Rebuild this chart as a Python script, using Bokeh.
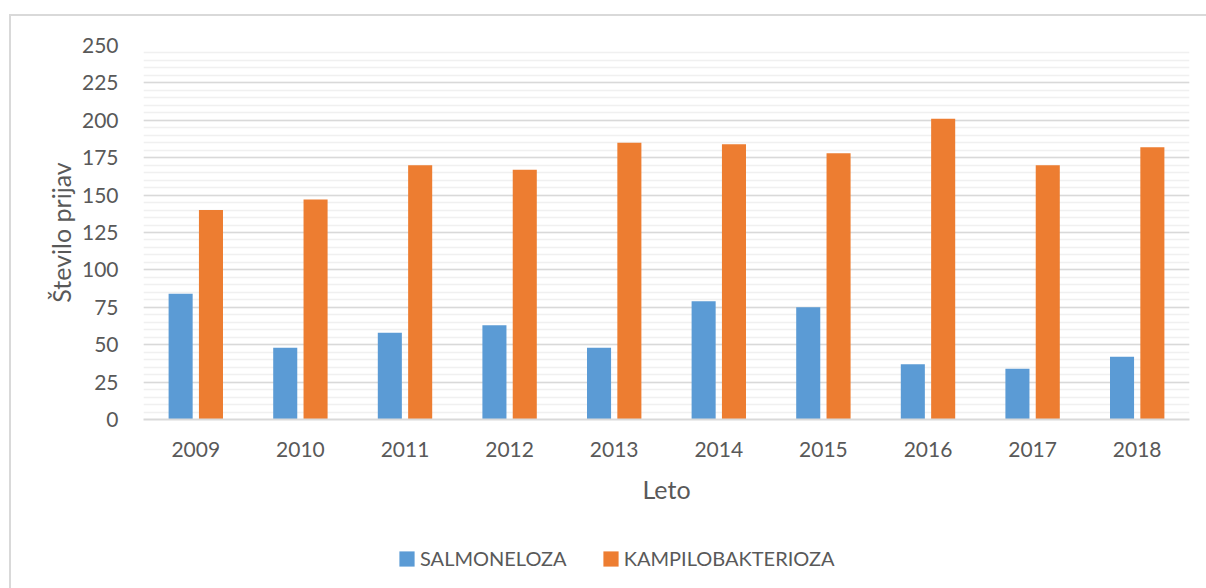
from bokeh.plotting import figure
from bokeh.layouts import column
from bokeh.models import (FactorRange, Range1d, SingleIntervalTicker, ColumnDataSource,
                          Legend, LegendItem)
from bokeh.transform import dodge
from bokeh.embed import file_html
from bokeh.resources import INLINE

years = ["2009", "2010", "2011", "2012", "2013", "2014", "2015", "2016", "2017", "2018"]
salmoneloza = [84, 48, 58, 63, 48, 79, 75, 37, 34, 42]
kampilobakterioza = [140, 147, 170, 167, 185, 184, 178, 201, 170, 182]
series_names = ["SALMONELOZA", "KAMPILOBAKTERIOZA"]
series_colors = ["#5b9bd5", "#ed7d31"]

FONT = "Lato"
TXT = "#595959"

src = ColumnDataSource(dict(year=years, sal=salmoneloza, kam=kampilobakterioza))

OX, OY = 11, 16          # figure origin on page
W = 1206 - OX
H1 = 514 - OY            # main figure height
H2 = 588 - 514           # legend strip height

p = figure(width=W, height=H1, output_backend="svg", toolbar_location=None,
           x_range=FactorRange(factors=years, range_padding=0),
           y_range=Range1d(0, 250),
           min_border_left=143 - OX, min_border_right=W - (1189 - OX),
           min_border_top=45 - OY, min_border_bottom=H1 - (419 - OY))
p.outline_line_color = None
p.background_fill_color = "white"
p.border_fill_color = "white"

p.vbar(x=dodge("year", -0.145, range=p.x_range), top="sal", width=0.23, source=src,
       fill_color=series_colors[0], line_color=None)
p.vbar(x=dodge("year", 0.145, range=p.x_range), top="kam", width=0.23, source=src,
       fill_color=series_colors[1], line_color=None)

# y axis
p.yaxis.ticker = SingleIntervalTicker(interval=25, num_minor_ticks=5)
p.yaxis.axis_line_color = None
p.yaxis.major_tick_line_color = None
p.yaxis.minor_tick_line_color = None
p.yaxis.major_label_text_font = FONT
p.yaxis.major_label_text_font_size = "21px"
p.yaxis.major_label_text_color = TXT
p.yaxis.major_label_standoff = 19
p.yaxis.axis_label = "Število prijav"
p.yaxis.axis_label_text_font = FONT
p.yaxis.axis_label_text_font_size = "25px"
p.yaxis.axis_label_text_font_style = "normal"
p.yaxis.axis_label_text_color = TXT
p.yaxis.axis_label_standoff = 3

# x axis
p.xaxis.axis_line_color = "#d9d9d9"
p.xaxis.axis_line_width = 2
p.xaxis.major_tick_line_color = None
p.xaxis.minor_tick_line_color = None
p.xaxis.major_label_text_font = FONT
p.xaxis.major_label_text_font_size = "21px"
p.xaxis.major_label_text_color = TXT
p.xaxis.major_label_standoff = 16
p.xaxis.axis_label = "Leto"
p.xaxis.axis_label_text_font = FONT
p.xaxis.axis_label_text_font_size = "25px"
p.xaxis.axis_label_text_font_style = "normal"
p.xaxis.axis_label_text_color = TXT
p.xaxis.axis_label_standoff = 14

# grids
p.xgrid.grid_line_color = None
p.ygrid.grid_line_color = "#d9d9d9"
p.ygrid.grid_line_width = 1.3
p.ygrid.minor_grid_line_color = "#f0f0f0"
p.ygrid.minor_grid_line_width = 1.5

# legend strip (separate figure so the legend is not clipped)
pl = figure(width=W, height=H2, output_backend="svg", toolbar_location=None,
            x_range=Range1d(0, 1), y_range=Range1d(0, 1),
            x_axis_location=None, y_axis_location=None,
            min_border=0, min_border_left=0, min_border_right=0,
            min_border_top=0, min_border_bottom=0)
pl.outline_line_color = None
pl.xgrid.grid_line_color = None
pl.ygrid.grid_line_color = None
pl.background_fill_color = "white"
pl.border_fill_color = "white"
items = []
for name, col in zip(series_names, series_colors):
    r = pl.vbar(x=[-5], top=[-5], width=0.1, fill_color=col, line_color=None)
    items.append(LegendItem(label=name, renderers=[r]))
legend = Legend(items=items, orientation="horizontal", location=(254, 18),
                label_text_font=FONT, label_text_font_size="20px", label_text_color=TXT,
                glyph_width=19, glyph_height=19, label_standoff=4, spacing=34,
                margin=0, padding=5,
                border_line_color=None, background_fill_alpha=0)
pl.add_layout(legend, "center")

layout = column(p, pl, spacing=0, margin=(OY - 2, 0, 0, OX - 2),
                styles={"border-top": "2px solid #d9d9d9", "border-left": "2px solid #d9d9d9"})

open("out.html", "w").write(file_html(layout, INLINE))
